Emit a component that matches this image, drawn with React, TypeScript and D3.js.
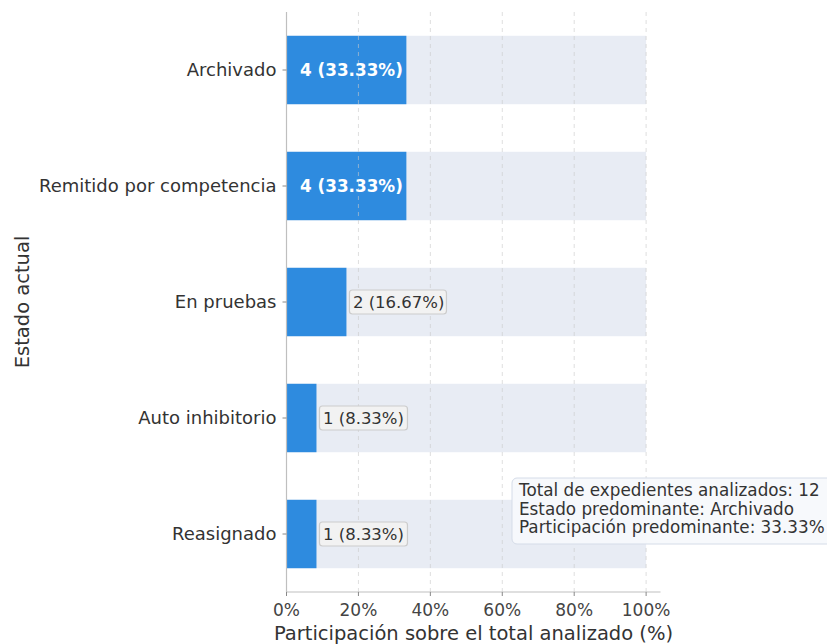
import React from "react";
import * as d3 from "d3";

const categories = ["Reasignado", "Auto inhibitorio", "En pruebas", "Remitido por competencia", "Archivado"];
const counts = [1, 1, 2, 4, 4];
const total = 12;
const xTicks = [0, 20, 40, 60, 80, 100];
const infoLines = [
  "Total de expedientes analizados: 12",
  "Estado predominante: Archivado",
  "Participación predominante: 33.33%",
];

const W = 827;
const H = 644;
const FONT = "DejaVu Sans, sans-serif";

export default function App() {
  const left = 286.5;
  const x = d3.scaleLinear().domain([0, 104]).range([left, 660.5]);
  const y = d3.scaleLinear().domain([-0.5, 4.5]).range([592, 12]);
  const barH = y(0) - y(0.59);
  const pct = counts.map((c) => (c / total) * 100);
  const textColor = "#333";

  return (
    <svg width={W} height={H} style={{ position: "absolute", left: 0, top: 0 }} fontFamily={FONT}>
      <rect width={W} height={H} fill="#fff" />
      {categories.map((c, i) => (
        <rect key={"bg" + c} x={x(0)} y={y(i) - barH / 2} width={x(100) - x(0)} height={barH} fill="#e8ecf4" />
      ))}
      {categories.map((c, i) => (
        <rect key={"b" + c} x={x(0)} y={y(i) - barH / 2} width={x(pct[i]) - x(0)} height={barH} fill="#2e8bdf" />
      ))}
      {xTicks.map((t) => (
        <line key={"g" + t} x1={x(t)} x2={x(t)} y1={12} y2={592} stroke="#c8c8c8" strokeOpacity={0.6} strokeDasharray="4,4" strokeWidth={1} />
      ))}
      {categories.map((c, i) => {
        const label = `${counts[i]} (${pct[i].toFixed(2)}%)`;
        if (pct[i] >= 25) {
          return (
            <text key={"l" + c} x={(x(0) + x(pct[i])) / 2 + 5} y={y(i)} dy="0.35em" textAnchor="middle" fill="#fff" fontWeight="bold" fontSize={16.8}>
              {label}
            </text>
          );
        }
        const tx = x(pct[i]) + 6.5;
        const tw = label.length * 9.0;
        return (
          <g key={"l" + c}>
            <rect x={tx - 3.5} y={y(i) - 12} width={tw + 7} height={24} rx={3} fill="#f2f2f2" stroke="#cccccc" strokeWidth={1.2} />
            <text x={tx} y={y(i)} dy="0.35em" fill={textColor} fontSize={16.5}>
              {label}
            </text>
          </g>
        );
      })}
      {/* spines */}
      <line x1={left} x2={left} y1={12} y2={592} stroke="#bfbfbf" strokeWidth={1.2} />
      <line x1={left} x2={660.5} y1={592} y2={592} stroke="#bfbfbf" strokeWidth={1.2} />
      {xTicks.map((t) => (
        <g key={"xt" + t}>
          <line x1={x(t)} x2={x(t)} y1={592} y2={596} stroke="#888" />
          <text x={x(t)} y={616} textAnchor="middle" fill="#444" fontSize={17}>
            {t}%
          </text>
        </g>
      ))}
      {categories.map((c, i) => (
        <g key={"yt" + c}>
          <line x1={left - 4} x2={left} y1={y(i)} y2={y(i)} stroke="#888" />
          <text x={left - 10} y={y(i)} dy="0.35em" textAnchor="end" fill={textColor} fontSize={18}>
            {c}
          </text>
        </g>
      ))}
      <text x={(left + 660.5) / 2} y={640} textAnchor="middle" fill={textColor} fontSize={19.5}>
        Participación sobre el total analizado (%)
      </text>
      <text transform={`translate(29,${y(2)}) rotate(-90)`} textAnchor="middle" fill={textColor} fontSize={19.5}>
        Estado actual
      </text>
      <g>
        <rect x={512} y={478} width={330} height={66} rx={5} fill="#f7f9fc" fillOpacity={0.95} stroke="#d5dce8" strokeWidth={1} />
        {infoLines.map((l, k) => (
          <text key={l} x={519} y={496 + k * 18.5} fill={textColor} fontSize={16.8}>
            {l}
          </text>
        ))}
      </g>
    </svg>
  );
}
